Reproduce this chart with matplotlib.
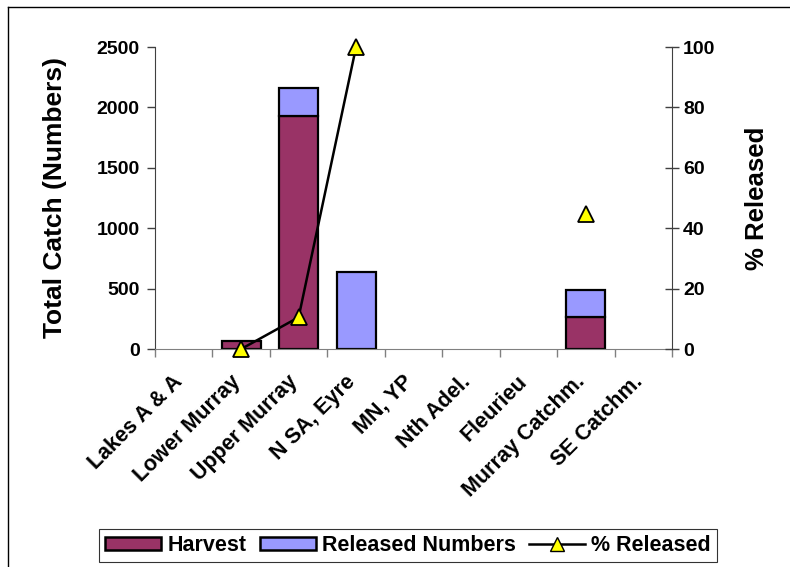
import numpy as np
import matplotlib
matplotlib.use("Agg")
import matplotlib.pyplot as plt
from matplotlib.lines import Line2D
from matplotlib.patches import Patch
from matplotlib.transforms import ScaledTranslation

categories = ["Lakes A & A", "Lower Murray", "Upper Murray", "N SA, Eyre", "MN, YP",
              "Nth Adel.", "Fleurieu", "Murray Catchm.", "SE Catchm."]
harvest = [0, 70, 1930, 0, 0, 0, 0, 265, 0]
released = [0, 0, 230, 640, 0, 0, 0, 225, 0]
pct_released = [np.nan, 0, 10.5, 100, np.nan, np.nan, np.nan, 44.6, np.nan]
left_ticks = [0, 500, 1000, 1500, 2000, 2500]
right_ticks = [0, 20, 40, 60, 80, 100]

plt.rcParams['font.family'] = ['Liberation Sans', 'DejaVu Sans']
plt.rcParams['font.weight'] = 'bold'

fig = plt.figure(figsize=(7.9, 5.67), dpi=100)
ax = fig.add_axes([155/790, 1-349/567, (672-155)/790, (349-47)/567])

x = np.arange(len(categories))
h = np.array(harvest, dtype=float)
r = np.array(released, dtype=float)
bw = 0.68
mh = h > 0
mr = r > 0
ax.bar(x[mh], h[mh], bw, color="#993366", edgecolor="black", linewidth=1.6, zorder=2)
ax.bar(x[mr], r[mr], bw, bottom=h[mr], color="#9999FF", edgecolor="black", linewidth=1.6, zorder=2)

ax.set_xlim(-0.5, len(categories) - 0.5)
ax.set_ylim(0, 2500)
ax.set_yticks(left_ticks)
ax.set_yticklabels([str(t) for t in left_ticks], fontsize=14, fontweight='bold')
ax.set_xticks(np.arange(len(categories) + 1) - 0.5, minor=False)
ax.set_xticklabels([])
ax.set_xticks(x, minor=True)
ax.set_xticklabels(categories, minor=True, rotation=45, ha='right', va='baseline',
                   rotation_mode='anchor', fontsize=15.5, fontweight='bold')
off = ScaledTranslation(-3/100, 0, fig.dpi_scale_trans)
for lbl in ax.get_xticklabels(minor=True):
    lbl.set_transform(lbl.get_transform() + off)
ax.tick_params(axis='x', which='minor', length=0, pad=24)
ax.tick_params(axis='x', which='major', length=6, color='#808080', width=1)
ax.tick_params(axis='y', direction='out', length=6, width=1, color='#404040', pad=5)
ax.set_ylabel("Total Catch (Numbers)", fontsize=19, fontweight='bold', labelpad=21)
ax.spines['top'].set_visible(False)
ax.spines['right'].set_visible(False)
ax.spines['bottom'].set_color('#808080')
ax.spines['left'].set_color('#404040')

ax2 = ax.twinx()
ax2.plot(x, pct_released, color='black', linewidth=1.8, marker='^', markersize=11,
         markerfacecolor='#FFFF00', markeredgecolor='black', markeredgewidth=1.3, zorder=5,
         clip_on=False)
ax2.set_ylim(0, 100)
ax2.set_yticks(right_ticks)
ax2.set_yticklabels([str(t) for t in right_ticks], fontsize=14, fontweight='bold')
ax2.tick_params(axis='y', direction='inout', length=10, width=1, color='#404040', pad=3)
ax2.set_ylabel("% Released", fontsize=18.5, fontweight='bold', labelpad=21)
for s in ['top', 'left', 'bottom']:
    ax2.spines[s].set_visible(False)
ax2.spines['right'].set_color('#404040')

handles = [Patch(facecolor="#993366", edgecolor="black", linewidth=1.8, label="Harvest"),
           Patch(facecolor="#9999FF", edgecolor="black", linewidth=1.8, label="Released Numbers"),
           Line2D([0], [0], color='black', linewidth=1.8, marker='^', markersize=10,
                  markerfacecolor='#FFFF00', markeredgecolor='black', label="% Released")]
leg = fig.legend(handles=handles, loc='center', bbox_to_anchor=(408/790, 1-545.5/567), ncol=3,
                 frameon=True, fancybox=False, edgecolor='black',
                 prop={'weight': 'bold', 'size': 15.5}, handlelength=2.6, handleheight=0.6,
                 handletextpad=0.3, columnspacing=0.6, borderpad=0.3)
leg.get_frame().set_linewidth(0.8)

# figure border (left and top)
fig.add_artist(Line2D([8/790, 8/790], [0, 1-7/567], color='black', linewidth=1, transform=fig.transFigure))
fig.add_artist(Line2D([8/790, 1], [1-7/567, 1-7/567], color='black', linewidth=1, transform=fig.transFigure))

fig.savefig("out.png", dpi=100)
